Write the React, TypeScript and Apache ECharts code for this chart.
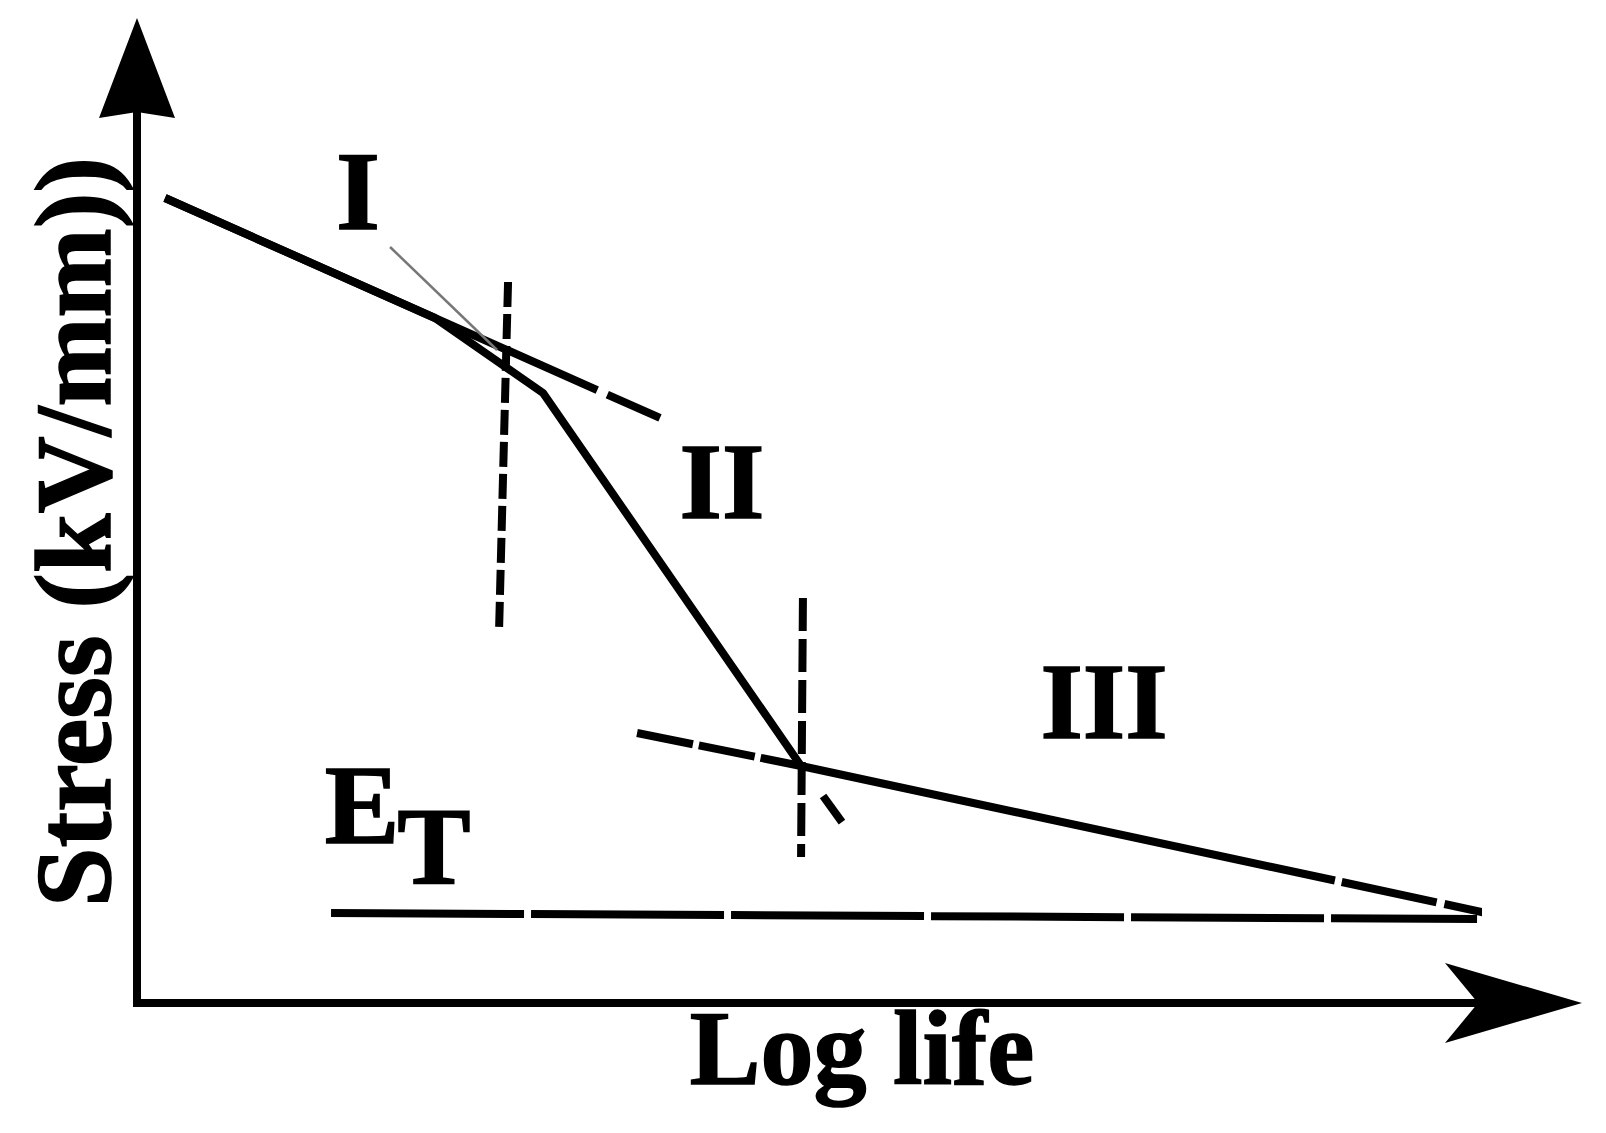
import React, { useEffect, useRef } from "react";
import * as echarts from "echarts";

// Axis ranges (arbitrary schematic units)
const xRange = [0, 100];
const yRange = [0, 100];

// Schematic lines, [log life, stress]
const stageILine = [[2.09, 90.35], [39.0, 65.66]];
const mainCurve = [[2.09, 90.35], [22.22, 76.88], [30.28, 68.46], [49.52, 26.6]];
const stageIIILine = [[49.52, 26.6], [102.01, 9.65]];
const stageIIIBack = [[37.29, 30.3], [49.52, 26.6]];
const stageIIExt = [[51.16, 23.23], [52.57, 20.31]];
const tangentLine = [[18.87, 84.85], [26.85, 73.29]];
const boundaryI_II = [[27.67, 80.92], [27.0, 41.86]];
const boundaryII_III = [[49.66, 45.45], [49.52, 16.39]];
const thresholdLine = [[14.47, 10.1], [99.93, 9.43]];

// Texts
const stageNames = ["I", "II", "III"];
const thresholdMain = "E";
const thresholdSub = "T";
const xTitle = "Log life";
const yTitle = "Stress (kV/mm))";

const FONT = "Liberation Serif, serif";

function lineSeries(name: string, data: number[][], width: number, dash?: number[], color = "#000") {
  return {
    name,
    type: "line",
    data,
    showSymbol: false,
    symbol: "none",
    clip: false,
    silent: true,
    lineStyle: { color, width, type: dash ? dash : "solid" },
    emphasis: { disabled: true },
    z: 3,
  };
}

function txt(text: string, x: number, y: number, size: number, rotation = 0) {
  return {
    type: "text",
    x,
    y,
    rotation,
    silent: true,
    style: {
      text,
      fill: "#000",
      stroke: "#000",
      lineWidth: 1.5,
      fontSize: size,
      fontWeight: "bold",
      fontFamily: FONT,
      align: "center",
      verticalAlign: "middle",
      textAlign: "center",
      textVerticalAlign: "middle",
    },
  };
}

export default function App() {
  const ref = useRef<HTMLDivElement>(null);
  useEffect(() => {
    if (!ref.current) return;
    const chart = echarts.init(ref.current, null, { renderer: "svg" });
    const axisCommon = {
      type: "value",
      axisLine: { show: true, onZero: false, lineStyle: { color: "#000", width: 8, cap: "square" } },
      axisTick: { show: false },
      axisLabel: { show: false },
      splitLine: { show: false },
    };
    const W = 8;
    chart.setOption({
      animation: false,
      backgroundColor: "#fff",
      grid: { left: 137, top: 112, width: 1341, height: 891, containLabel: false },
      xAxis: { ...axisCommon, min: xRange[0], max: xRange[1] },
      yAxis: { ...axisCommon, min: yRange[0], max: yRange[1] },
      series: [
        lineSeries("stageI", stageILine, W, [473, 11, 60, 100]),
        lineSeries("main", mainCurve, W),
        lineSeries("stageIII", stageIIILine, W, [546, 7, 97, 8, 200]),
        lineSeries("stageIIIBack", stageIIIBack, W, [57, 6]),
        lineSeries("stageIIExt", stageIIExt, W),
        lineSeries("tangent", tangentLine, 2.5, undefined, "#777"),
        lineSeries("boundaryI_II", boundaryI_II, W, [25, 7]),
        lineSeries("boundaryII_III", boundaryII_III, W, [33, 8]),
        lineSeries("threshold", thresholdLine, W, [193, 7]),
        {
          type: "custom",
          coordinateSystem: "cartesian2d",
          data: [[0, 0]],
          clip: false,
          silent: true,
          z: 5,
          renderItem: (_params: any, api: any) => {
            const xe = api.coord([xRange[1], yRange[0]]);
            const ye = api.coord([xRange[0], yRange[1]]);
            return {
              type: "group",
              children: [
                {
                  type: "polygon",
                  shape: {
                    points: [
                      [xe[0] + 104, xe[1]],
                      [xe[0] - 33, xe[1] - 40],
                      [xe[0], xe[1]],
                      [xe[0] - 33, xe[1] + 40],
                    ],
                  },
                  style: { fill: "#000" },
                },
                {
                  type: "polygon",
                  shape: {
                    points: [
                      [ye[0], ye[1] - 94],
                      [ye[0] + 38, ye[1] + 6],
                      [ye[0], ye[1]],
                      [ye[0] - 38, ye[1] + 6],
                    ],
                  },
                  style: { fill: "#000" },
                },
              ],
            };
          },
        },
      ],
      graphic: [
        txt(stageNames[0], 358, 190, 113),
        txt(stageNames[1], 722, 481, 109),
        txt(stageNames[2], 1104, 701, 109),
        txt(thresholdMain, 362, 805, 112),
        txt(thresholdSub, 434, 847, 110),
        txt(xTitle, 862, 1048, 106),
        txt(yTitle, 74, 532, 107, Math.PI / 2),
      ],
    });
    return () => chart.dispose();
  }, []);
  return (
    <div
      ref={ref}
      style={{ position: "fixed", left: 0, top: 0, width: 1606, height: 1133, background: "#fff" }}
    />
  );
}
